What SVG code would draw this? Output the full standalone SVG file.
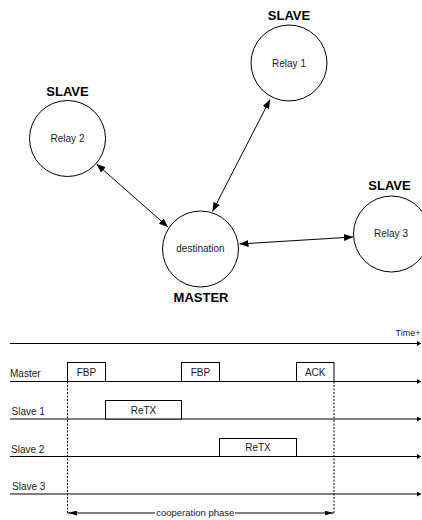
<svg xmlns="http://www.w3.org/2000/svg" width="422" height="520" viewBox="0 0 422 520">
<style>
.n{fill:#fff;stroke:#000;stroke-width:1}
.t{font-family:"Liberation Sans",Arial,sans-serif;font-size:10px;fill:#1a1a1a}
.c{text-anchor:middle}
.b{font-family:"Liberation Sans",Arial,sans-serif;font-size:13px;font-weight:bold;fill:#000;text-anchor:middle}
.l{stroke:#000;stroke-width:1;fill:none}
.d{stroke:#000;stroke-width:1;fill:none;stroke-dasharray:2,1.5}
.box{fill:#fff;stroke:#000;stroke-width:1}
</style>
<defs>
<marker id="ah" markerUnits="userSpaceOnUse" markerWidth="9" markerHeight="7" refX="9" refY="3.5" orient="auto-start-reverse"><path d="M0,0 L9,3.5 L0,7 z" fill="#000"/></marker>
<marker id="th" markerUnits="userSpaceOnUse" markerWidth="4" markerHeight="5" refX="4" refY="2.5" orient="auto"><path d="M0,0 L4,2.5 L0,5 z" fill="#000"/></marker>
<marker id="ch" markerUnits="userSpaceOnUse" markerWidth="9" markerHeight="5" refX="9" refY="2.5" orient="auto"><path d="M0,0 L9,2.5 L0,5 z" fill="#000"/></marker>
</defs>
<g id="connectors">
<line class="l" x1="96.5" y1="164" x2="168" y2="227" marker-start="url(#ah)" marker-end="url(#ah)"/>
<line class="l" x1="270" y1="99.5" x2="212.5" y2="211.5" marker-start="url(#ah)" marker-end="url(#ah)"/>
<line class="l" x1="239.5" y1="244" x2="353" y2="237" marker-start="url(#ah)" marker-end="url(#ah)"/>
</g>
<g id="relay1">
<text class="b" x="289" y="20">SLAVE</text>
<circle class="n" cx="289" cy="63" r="38"/>
<text class="t c" x="289" y="66.5">Relay 1</text>
</g>
<g id="relay2">
<text class="b" x="67.5" y="96">SLAVE</text>
<circle class="n" cx="67.5" cy="138.5" r="38"/>
<text class="t c" x="67.5" y="142">Relay 2</text>
</g>
<g id="destination">
<circle class="n" cx="200.5" cy="249" r="38"/>
<text class="t c" x="200.5" y="252">destination</text>
<text class="b" x="201" y="302">MASTER</text>
</g>
<g id="relay3">
<text class="b" x="389.5" y="190">SLAVE</text>
<circle class="n" cx="391.5" cy="234" r="38"/>
<text class="t c" x="391" y="237">Relay 3</text>
</g>
<g id="timeline">
<text class="t" x="395.5" y="336" style="font-size:9px">Time+</text>
<line class="l" x1="10" y1="343.5" x2="421" y2="343.5" marker-end="url(#th)"/>
<text class="t" x="10" y="377">Master</text>
<line class="l" x1="10" y1="381.5" x2="421" y2="381.5" marker-end="url(#th)"/>
<text class="t" x="11.5" y="414.5">Slave 1</text>
<line class="l" x1="10" y1="419" x2="421" y2="419" marker-end="url(#th)"/>
<text class="t" x="11" y="452.5">Slave 2</text>
<line class="l" x1="10" y1="456.5" x2="421" y2="456.5" marker-end="url(#th)"/>
<text class="t" x="12" y="489.5">Slave 3</text>
<line class="l" x1="10" y1="494" x2="421" y2="494" marker-end="url(#th)"/>
</g>
<g id="fbp1"><rect class="box" x="67.5" y="362.5" width="38" height="19"/><text class="t c" x="86.5" y="375.5">FBP</text></g>
<g id="fbp2"><rect class="box" x="181.5" y="362.5" width="38" height="19"/><text class="t c" x="200.5" y="375.5">FBP</text></g>
<g id="ack"><rect class="box" x="296.5" y="362.5" width="37.5" height="19"/><text class="t c" x="315.2" y="375.5">ACK</text></g>
<g id="retx1"><rect class="box" x="105.5" y="400.5" width="76" height="18.5"/><text class="t c" x="143.5" y="413.5">ReTX</text></g>
<g id="retx2"><rect class="box" x="219.5" y="438.5" width="77" height="18"/><text class="t c" x="258" y="451">ReTX</text></g>
<g id="phase">
<line class="d" x1="67.5" y1="381.5" x2="67.5" y2="514"/>
<line class="d" x1="334" y1="381.5" x2="334" y2="514"/>
<line class="l" x1="155" y1="513" x2="68" y2="513" marker-end="url(#ch)"/>
<line class="l" x1="235" y1="513" x2="333.5" y2="513" marker-end="url(#ch)"/>
<text class="t c" x="195.3" y="516.3" style="font-size:9.5px">cooperation phase</text>
</g>
</svg>
